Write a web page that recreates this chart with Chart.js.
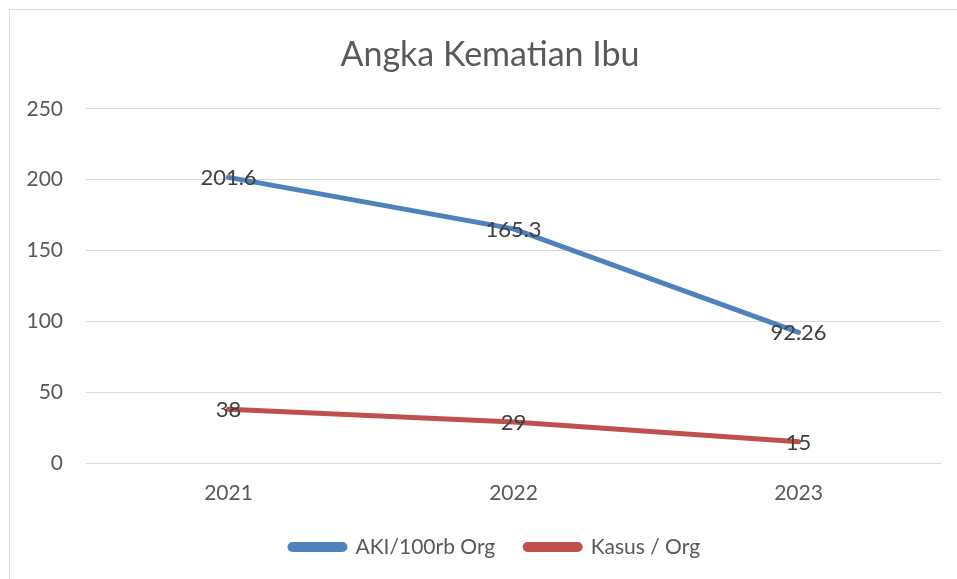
<!DOCTYPE html>
<html>
<head>
<meta charset="utf-8">
<script src="https://cdn.jsdelivr.net/npm/chart.js@4.4.1/dist/chart.umd.min.js"></script>
<style>
  html, body { margin: 0; padding: 0; background: #ffffff; }
  #wrap { position: relative; width: 957px; height: 579px; }
</style>
</head>
<body>
<div id="wrap"><canvas id="c" width="957" height="579"></canvas></div>
<script>
const chartTitle = "Angka Kematian Ibu";
const categories = ["2021", "2022", "2023"];
const seriesNames = ["AKI/100rb Org", "Kasus / Org"];
const akiValues = [201.6, 165.3, 92.26];
const kasusValues = [38, 29, 15];
const yTicks = [0, 50, 100, 150, 200, 250];

const FONT = "Lato, 'Open Sans', sans-serif";
const FRAME_CENTER_X = 490;
const LEGEND_PAD = 30;
const LEGEND_FONT = 21;
const LEGEND_CENTER_Y = 547;
const LEGEND_HEIGHT = 56;
const XAXIS_HEIGHT = 60;

const dataLabelPlugin = {
  id: 'dataLabels',
  afterDatasetsDraw(chart) {
    const ctx = chart.ctx;
    ctx.save();
    ctx.font = "22px " + FONT;
    ctx.fillStyle = "#404040";
    ctx.textAlign = "center";
    ctx.textBaseline = "middle";
    chart.data.datasets.forEach((ds, i) => {
      const meta = chart.getDatasetMeta(i);
      meta.data.forEach((pt, j) => {
        ctx.fillText(String(ds.data[j]), pt.x, pt.y + 1);
      });
    });
    ctx.restore();
  }
};

const borderPlugin = {
  id: 'outerBorder',
  beforeDraw(chart) {
    const ctx = chart.ctx;
    ctx.save();
    ctx.fillStyle = "#ffffff";
    ctx.fillRect(0, 0, chart.width, chart.height);
    ctx.strokeStyle = "#d9d9d9";
    ctx.lineWidth = 1;
    ctx.strokeRect(9.5, 9.5, chart.width + 20, chart.height + 20);
    ctx.restore();
  }
};

// Fix legend height, and centre title and legend on the (wider) chart frame.
const frameCenterPlugin = {
  id: 'frameCenter',
  beforeLayout(chart) {
    const lg = chart.legend;
    if (lg && !lg._fixedFit) {
      const orig = lg.fit;
      lg.fit = function () { orig.call(this); this.height = LEGEND_HEIGHT; };
      lg._fixedFit = true;
    }
  },
  afterLayout(chart) {
    const shift = (box, d0) => {
      if (!box) return;
      const c = (box.left + box.right) / 2;
      const d = FRAME_CENTER_X + d0 - c;
      box.left += d; box.right += d;
    };
    shift(chart.titleBlock, 0);
    if (chart.legend) {
      shift(chart.legend, 5);
      const h = chart.legend.height;
      chart.legend.top = LEGEND_CENTER_Y - LEGEND_PAD - LEGEND_FONT / 2;
      chart.legend.bottom = chart.legend.top + h;
    }
  }
};

new Chart(document.getElementById('c'), {
  type: 'line',
  data: {
    labels: categories,
    datasets: [
      {
        label: seriesNames[0],
        data: akiValues,
        borderColor: "#4F81BD",
        backgroundColor: "#4F81BD",
        borderWidth: 5,
        pointRadius: 0,
        pointHoverRadius: 0,
        borderCapStyle: 'round',
        tension: 0
      },
      {
        label: seriesNames[1],
        data: kasusValues,
        borderColor: "#C0504D",
        backgroundColor: "#C0504D",
        borderWidth: 5,
        pointRadius: 0,
        pointHoverRadius: 0,
        borderCapStyle: 'round',
        tension: 0
      }
    ]
  },
  options: {
    responsive: false,
    animation: false,
    events: [],
    layout: { padding: { left: 0, right: 16, top: 0, bottom: 0 } },
    plugins: {
      title: {
        display: true,
        text: chartTitle,
        color: "#595959",
        font: { family: FONT, size: 34, weight: 'normal', lineHeight: 1.2 },
        padding: { top: 35, bottom: 33 }
      },
      legend: {
        display: true,
        position: 'bottom',
        labels: {
          color: "#595959",
          font: { family: FONT, size: LEGEND_FONT },
          boxWidth: 55,
          boxHeight: 5,
          padding: LEGEND_PAD,
          useBorderRadius: true,
          borderRadius: 2.5
        }
      },
      tooltip: { enabled: false }
    },
    scales: {
      x: {
        offset: true,
        grid: { display: false, drawTicks: false },
        border: { display: false },
        ticks: {
          color: "#595959",
          font: { family: FONT, size: 21 },
          padding: 18,
          maxRotation: 0
        },
        afterFit(scale) { scale.height = XAXIS_HEIGHT; }
      },
      y: {
        min: 0,
        max: 250,
        afterBuildTicks(scale) { scale.ticks = yTicks.map(v => ({ value: v })); },
        grid: { color: "#d9d9d9", lineWidth: 1, drawTicks: false },
        border: { display: false },
        ticks: {
          color: "#595959",
          font: { family: FONT, size: 21 },
          padding: 23
        },
        afterFit(scale) { scale.width = 86; }
      }
    }
  },
  plugins: [borderPlugin, frameCenterPlugin, dataLabelPlugin]
});
</script>
</body>
</html>
